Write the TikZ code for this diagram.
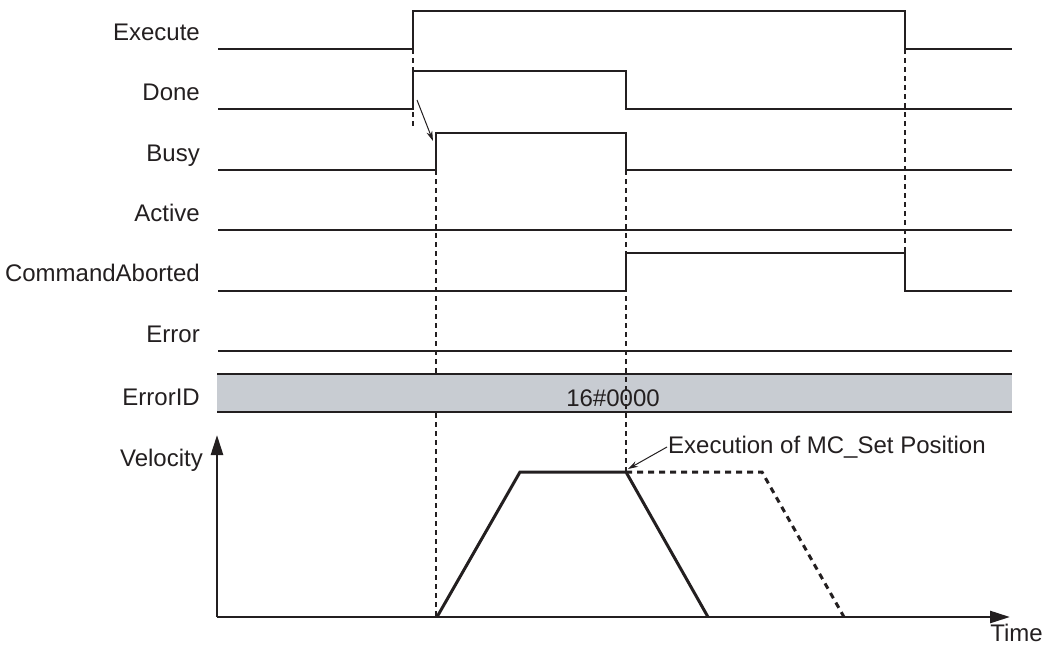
\documentclass[tikz,border=0pt]{standalone}
\usepackage{fontspec}
\setmainfont{Liberation Sans}
\usetikzlibrary{arrows.meta}
\definecolor{ink}{HTML}{231F20}
\definecolor{bandgray}{HTML}{C8CCD2}
\begin{document}
\begin{tikzpicture}[x=1pt,y=-1pt,
  sig/.style={line width=2.9pt, draw=ink, line join=miter},
  guide/.style={line width=1.2pt, draw=ink, dash pattern=on 5pt off 4pt},
  vel/.style={line width=3pt, draw=ink, line join=miter},
  veldash/.style={line width=3pt, draw=ink, dash pattern=on 6pt off 5pt},
  axis/.style={line width=2.6pt, draw=ink, -{Triangle[length=20pt,width=12pt]}},
  note/.style={line width=1pt, draw=ink, -{Stealth[length=10pt,width=6pt]}},
  lbl/.style={font=\fontsize{24}{28}\selectfont, text=ink, inner sep=0pt},
  sigl/.style={lbl, anchor=base east}
]
\useasboundingbox (0,0) rectangle (1045,646);

% signal names
\node[sigl] (lExecute) at (200,40) {Execute};
\node[sigl] (lDone) at (200,100) {Done};
\node[sigl] (lBusy) at (200,161) {Busy};
\node[sigl] (lActive) at (200,221) {Active};
\node[sigl] (lCA) at (200,281) {CommandAborted};
\node[sigl] (lError) at (200,342) {Error};
\node[sigl] (lErrorID) at (200,405) {ErrorID};
\node[sigl] (lVel) at (203,466) {Velocity};

% guide lines (behind)
\draw[guide] (413,49) -- (413,129);
\draw[guide] (436,170) -- (436,617);
\draw[guide] (905,49) -- (905,253);

% ErrorID band
\fill[bandgray] (217,374) rectangle (1012,412);
\draw[sig] (217,374) -- (1012,374);
\draw[sig] (217,412) -- (1012,412);
\node[lbl, anchor=base] (vErrorID) at (613,406) {16\#0000};

\draw[guide] (626,170) -- (626,472);

% signals
\draw[sig] (218,49) -- (413,49) -- (413,11) -- (905,11) -- (905,49) -- (1012,49);
\draw[sig] (218,109) -- (413,109) -- (413,71) -- (626,71) -- (626,109) -- (1012,109);
\draw[sig] (218,170) -- (436,170) -- (436,133) -- (626,133) -- (626,170) -- (1012,170);
\draw[sig] (218,230) -- (1012,230);
\draw[sig] (218,291) -- (626,291) -- (626,253) -- (905,253) -- (905,291) -- (1012,291);
\draw[sig] (218,351) -- (1012,351);

% Done -> Busy arrow
\coordinate (dFrom) at (417,100);
\coordinate (dTo) at (433,141);
\draw[note] (dFrom) -- (dTo);

% velocity axes
\coordinate (origin) at (217,617);
\coordinate (vTop) at (217,435);
\coordinate (tEnd) at (1010,617);
\draw[axis] (origin) -- (vTop);
\draw[axis] (origin) -- (tEnd);
\node[lbl, anchor=base east] (lTime) at (1043,641) {Time};

% velocity profile
\coordinate (p0) at (437,617);
\coordinate (p1) at (520,472);
\coordinate (p2) at (626,472);
\coordinate (p3) at (708,617);
\coordinate (q1) at (762,472);
\coordinate (q2) at (844,617);
\draw[veldash] (p2) -- (q1) -- (q2);
\draw[vel] (p0) -- (p1) -- (p2) -- (p3);

% annotation
\node[lbl, anchor=base west] (lExec) at (668,453) {Execution of MC\_Set Position};
\coordinate (aFrom) at (667,447);
\draw[note] (aFrom) -- (628,469);
\end{tikzpicture}
\end{document}
